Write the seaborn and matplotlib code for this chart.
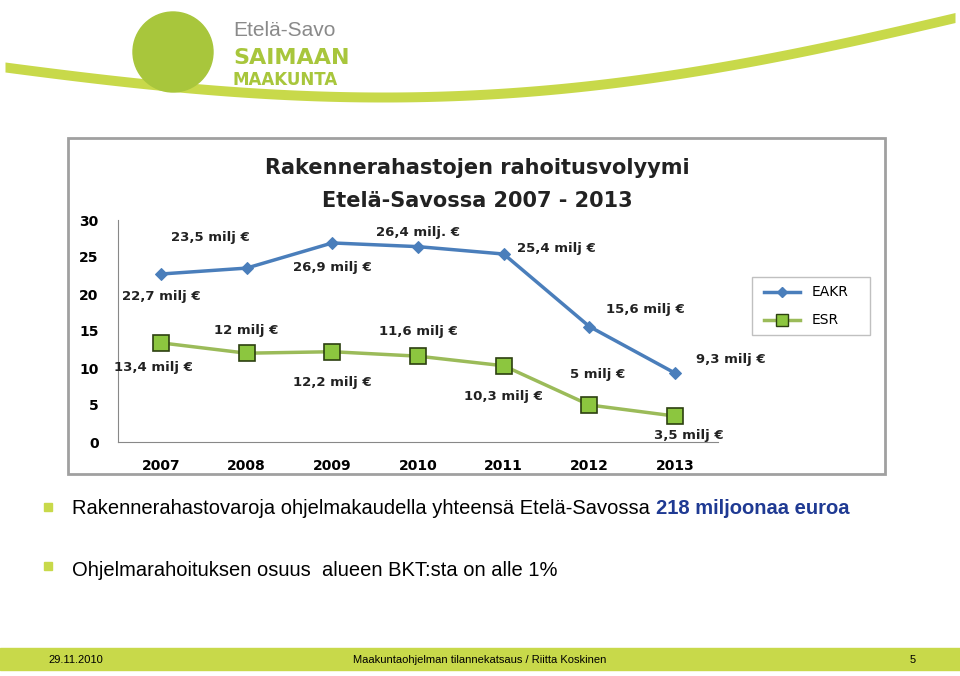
import matplotlib
matplotlib.use("Agg")
import matplotlib.pyplot as plt
import numpy as np
import pandas as pd
import seaborn as sns
from matplotlib.patches import Rectangle, Circle

years = ["2007", "2008", "2009", "2010", "2011", "2012", "2013"]
eakr = [22.7, 23.5, 26.9, 26.4, 25.4, 15.6, 9.3]
esr = [13.4, 12.0, 12.2, 11.6, 10.3, 5.0, 3.5]
eakr_labels = ["22,7 milj €", "23,5 milj €", "26,9 milj €", "26,4 milj. €", "25,4 milj €", "15,6 milj €", "9,3 milj €"]
esr_labels = ["13,4 milj €", "12 milj €", "12,2 milj €", "11,6 milj €", "10,3 milj €", "5 milj €", "3,5 milj €"]
eakr_off = [(0, -16), (-26, 22), (0, -18), (0, 10), (38, 4), (40, 12), (40, 10)]
esr_off = [(-5, -18), (0, 16), (0, -22), (0, 18), (0, -22), (6, 22), (10, -14)]

BLUE = "#4a7ebb"
GREEN = "#9bbb59"
LIME = "#c8d94a"

df = pd.DataFrame({"x": np.arange(len(years)), "EAKR": eakr, "ESR": esr})

fig = plt.figure(figsize=(9.6, 6.76), dpi=100)
bg = fig.add_axes([0, 0, 1, 1])
bg.set_xlim(0, 960)
bg.set_ylim(676, 0)
bg.axis("off")

# top swoosh
xs = np.linspace(5, 955, 200)
ys_top = 62 + 40 * np.sin((xs - 5) / 950 * np.pi) - 50 * (xs / 960) ** 2
bg.fill_between(xs, ys_top, ys_top + 10, color=LIME, lw=0)
bg.add_patch(Circle((173, 52), 40, color="#a8c63c"))
bg.text(233, 30, "Etelä-Savo", fontsize=15, color="#8a8a8a", va="center", family="Liberation Sans")
bg.text(233, 58, "SAIMAAN", fontsize=16, color="#a8c63c", va="center", weight="bold")
bg.text(233, 80, "MAAKUNTA", fontsize=12, color="#a8c63c", va="center", weight="bold")

# chart frame
bg.add_patch(Rectangle((68, 138), 817, 336, fc="white", ec="#a0a0a0", lw=2))
bg.text(477, 168, "Rakennerahastojen rahoitusvolyymi", ha="center", va="center", fontsize=15, weight="bold", color="#222222")
bg.text(477, 201, "Etelä-Savossa 2007 - 2013", ha="center", va="center", fontsize=15, weight="bold", color="#222222")

# legend box
bg.add_patch(Rectangle((752, 277), 118, 58, fc="white", ec="#c0c0c0", lw=1))
bg.plot([764, 800], [292, 292], color=BLUE, lw=2.5)
bg.plot([782], [292], marker="D", color=BLUE, ms=5)
bg.text(812, 292, "EAKR", va="center", fontsize=10)
bg.plot([764, 800], [320, 320], color=GREEN, lw=2.5)
bg.plot([782], [320], marker="s", mfc="#8cc63f", mec="#2c4010", ms=9)
bg.text(812, 320, "ESR", va="center", fontsize=10)

ax = fig.add_axes([118 / 960, 1 - 442 / 676, 600 / 960, 222 / 676])
sns.lineplot(data=df, x="x", y="EAKR", ax=ax, color=BLUE, lw=2.5, marker="D", ms=6, mec=BLUE)
sns.lineplot(data=df, x="x", y="ESR", ax=ax, color=GREEN, lw=2.5, marker="s", ms=11, mfc="#8cc63f", mec="#2c4010", mew=1.2)
for i in range(len(years)):
    ax.annotate(eakr_labels[i], (i, eakr[i]), xytext=eakr_off[i], textcoords="offset points",
                ha="center", va="center", fontsize=9.5, weight="bold", color="#222222")
    ax.annotate(esr_labels[i], (i, esr[i]), xytext=esr_off[i], textcoords="offset points",
                ha="center", va="center", fontsize=9.5, weight="bold", color="#222222")
ax.set_xlim(-0.5, 6.5)
ax.set_ylim(0, 30)
ax.set_xticks(range(len(years)))
ax.set_xticklabels(years, fontsize=10, weight="bold")
ax.set_yticks(range(0, 31, 5))
ax.tick_params(axis="y", labelsize=10, length=0, pad=14)
ax.tick_params(axis="x", length=0, pad=12)
for lbl in ax.get_yticklabels():
    lbl.set_weight("bold")
ax.set_xlabel("")
ax.set_ylabel("")
for s in ["top", "right"]:
    ax.spines[s].set_visible(False)
ax.spines["left"].set_color("#888888")
ax.spines["bottom"].set_color("#888888")
ax.set_facecolor("white")

# bullets
for y in (508, 567):
    bg.add_patch(Rectangle((44, y - 5), 8, 8, color=LIME))
t1 = bg.text(72, 508, "Rakennerahastovaroja ohjelmakaudella yhteensä Etelä-Savossa ", fontsize=14.5, va="center", family="Liberation Sans")
fig.canvas.draw()
ext = t1.get_window_extent(fig.canvas.get_renderer())
x_end = ext.x1 * 960 / fig.bbox.width
bg.text(x_end, 508, "218 miljoonaa euroa", fontsize=14.5, va="center", weight="bold", color="#1f3a93", family="Liberation Sans")
bg.text(72, 570, "Ohjelmarahoituksen osuus  alueen BKT:sta on alle 1%", fontsize=14.5, va="center", family="Liberation Sans")

# footer
bg.add_patch(Rectangle((0, 648), 960, 22, color=LIME))
bg.text(48, 660, "29.11.2010", fontsize=8, va="center", family="Liberation Sans")
bg.text(480, 660, "Maakuntaohjelman tilannekatsaus / Riitta Koskinen", fontsize=8, va="center", ha="center", family="Liberation Sans")
bg.text(910, 660, "5", fontsize=8, va="center", family="Liberation Sans")

fig.savefig("out.png", dpi=100)
